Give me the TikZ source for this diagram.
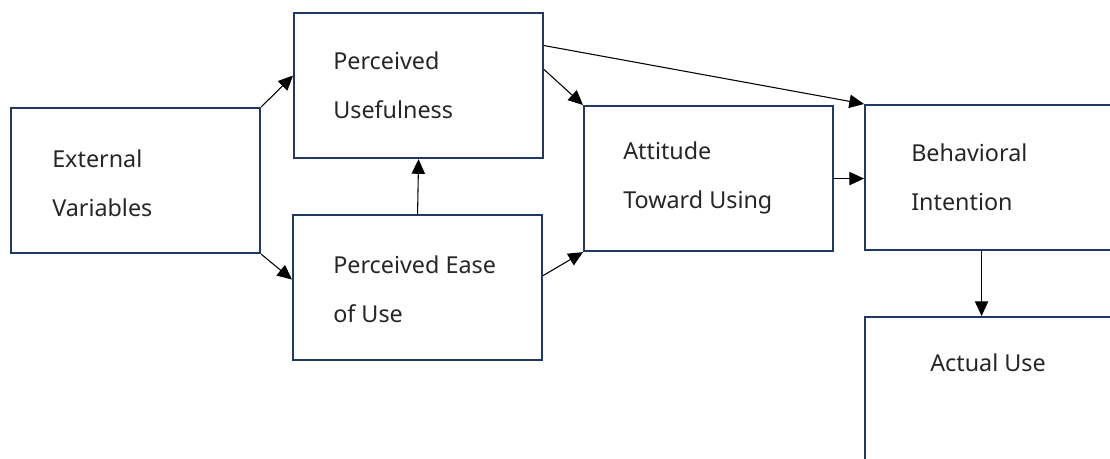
\documentclass[tikz,border=0pt]{standalone}
\usepackage{fontspec}
\setmainfont{Noto Sans}
\usepackage{tikz}
\usetikzlibrary{arrows.meta,calc}
\definecolor{navy}{HTML}{1F3864}
\definecolor{txt}{HTML}{262626}

\begin{document}
\begin{tikzpicture}[x=0.75pt,y=-0.75pt,
			box/.style={draw=navy,line width=1.6pt,rectangle,anchor=north west,
				minimum width=249*0.75pt,minimum height=145*0.75pt,inner sep=0pt},
			lbl/.style={anchor=west,align=left,inner sep=0pt,text=txt,
				font=\fontsize{17.5}{36.75}\selectfont},
			conn/.style={line width=0.8pt,-{Triangle[length=11pt,width=10pt]}}]
			\useasboundingbox (0,0) rectangle (1110,458);
			\node[box] (ext) at (10,107) {};
			\node[box] (pu) at (293,12) {};
			\node[box] (peou) at (292,214) {};
			\node[box] (att) at (583,105) {};
			\node[box] (bi) at (864,104) {};
			\node[box] (au) at (864,316) {};
			\node[lbl] (extlbl) at ($(ext.west)+(42,3)$) {External\\Variables};
			\node[lbl] (pulbl) at ($(pu.west)+(40,0)$) {Perceived\\Usefulness};
			\node[lbl] (peoulbl) at ($(peou.west)+(41,2)$) {Perceived Ease\\of Use};
			\node[lbl] (attlbl) at ($(att.west)+(40,-1)$) {Attitude\\Toward Using};
			\node[lbl] (bilbl) at ($(bi.west)+(47,0)$) {Behavioral\\Intention};
			\node[lbl] (aulbl) at ($(au.north west)+(66,47)$) {Actual Use};
			\coordinate (autop) at ($(au.north)+(-8,0)$);
			\draw[conn] (ext.north east)--($(pu.west)+(0,-10)$);
			\draw[conn] (ext.south east)--($(peou.west)+(0,-8)$);
			\draw[conn] (peou.north)--(pu.south);
			\draw[conn] ($(pu.east)+(0,-16)$)--(att.north west);
			\draw[conn] ($(pu.east)+(0,-40)$)--(bi.north west);
			\draw[conn] ($(peou.east)+(0,-12)$)--(att.south west);
			\draw[conn] (att.east)--(att.east -| bi.west);
			\draw[conn] (bi.south -| autop)--(autop);
		\end{tikzpicture}
\end{document}
